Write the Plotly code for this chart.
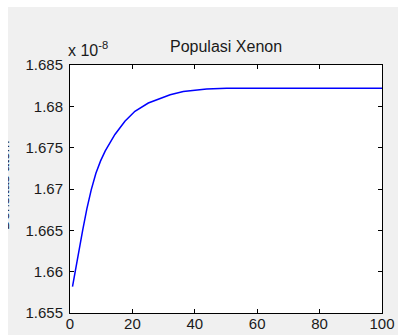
import plotly.graph_objects as go

# Data (values in units of 1e-8)
x_vals = [0.8, 1.6, 2.9, 4.1, 5.4, 6.8, 8.3, 9.8, 11.3, 12.3, 14.4, 17.6,
          20.8, 25.1, 29.4, 32.1, 36.3, 43.8, 50.2, 60, 70, 80, 90, 100]
y_vals = [1.6582, 1.6600, 1.6627, 1.6651, 1.6676, 1.6699, 1.6719, 1.6734,
          1.6746, 1.6752, 1.6766, 1.6782, 1.6794, 1.6804, 1.6810, 1.6814,
          1.6818, 1.6821, 1.6822, 1.6822, 1.6822, 1.6822, 1.6822, 1.6822]

x_ticks = [0, 20, 40, 60, 80, 100]
y_ticks = [1.655, 1.66, 1.665, 1.67, 1.675, 1.68, 1.685]
y_ticktext = ["1.655", "1.66", "1.665", "1.67", "1.675", "1.68", "1.685"]

title_text = "Populasi Xenon"
ylabel_text = "Densitas atom"
exp_text = "x 10<sup>-8</sup>"

FONT = "Liberation Sans, Arial, sans-serif"
BG = "#F0F0F0"
W, H = 390, 328
ML, MR, MT, MB = 62, 16, 58, 22

fig = go.Figure()
fig.add_trace(go.Scatter(x=x_vals, y=y_vals, mode="lines",
                         line=dict(color="#0000FF", width=1.5),
                         showlegend=False, hoverinfo="skip"))

axis_common = dict(showline=True, linecolor="black", linewidth=1,
                   mirror="ticks", ticks="inside", ticklen=4, tickwidth=1,
                   tickcolor="black", showgrid=False, zeroline=False,
                   automargin=False,
                   tickfont=dict(family=FONT, size=15, color="#1a1a1a"))

fig.update_layout(
    width=W, height=H,
    margin=dict(l=ML, r=MR, t=MT, b=MB, pad=0, autoexpand=False),
    paper_bgcolor=BG, plot_bgcolor="white",
    xaxis=dict(range=[0, 100], tickvals=x_ticks, ticklabelstandoff=-3, **axis_common),
    yaxis=dict(range=[1.655, 1.685], tickvals=y_ticks, ticktext=y_ticktext,
               ticklabelstandoff=3, **axis_common),
    annotations=[
        dict(text=title_text, xref="paper", yref="paper", x=0.5, y=1,
             xanchor="center", yanchor="bottom", yshift=8, showarrow=False,
             font=dict(family=FONT, size=16, color="#1a1a1a")),
        dict(text=exp_text, xref="paper", yref="paper", x=0, y=1,
             xanchor="left", yanchor="bottom", xshift=-4, yshift=4, showarrow=False,
             font=dict(family=FONT, size=16, color="#1a1a1a")),
        dict(text=ylabel_text, xref="paper", yref="paper",
             x=0, xshift=-56, y=0.5, yshift=3, xanchor="right", yanchor="middle",
             textangle=-90, showarrow=False,
             font=dict(family=FONT, size=14, color="#1a1a1a")),
    ],
)

post = ("document.body.style.margin='7px 0 0 8px';"
        "document.body.style.overflow='hidden';"
        "document.documentElement.style.overflow='hidden';")
fig.write_html("out.html", post_script=post, config=dict(displayModeBar=False))
